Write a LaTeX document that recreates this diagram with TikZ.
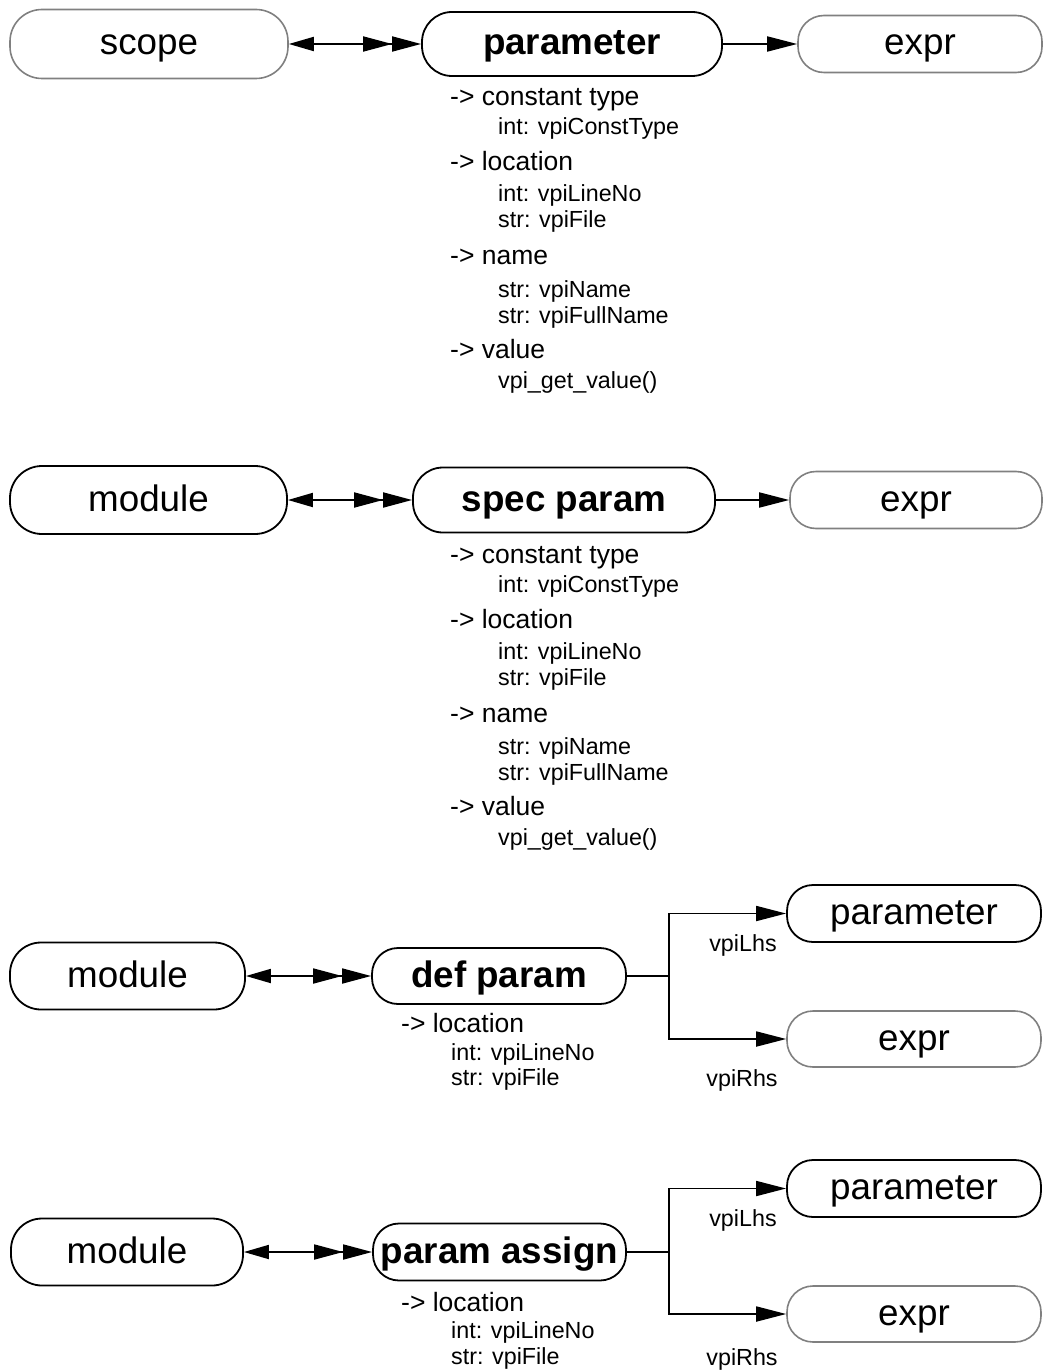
\documentclass[tikz,border=0pt]{standalone}
\usepackage{fontspec}
\setmainfont{Liberation Sans}
\usetikzlibrary{arrows.meta}
\newcommand\fnode{\fontsize{36.8}{40}\selectfont}
\newcommand\fhead{\fontsize{26.5}{30}\selectfont}
\newcommand\fsub{\fontsize{23.3}{27}\selectfont}
\begin{document}
\begin{tikzpicture}[x=1pt,y=-1pt,
  box/.style={rectangle, inner sep=0pt, font=\fnode, line width=1.8pt, text height=22pt, text depth=0pt},
  blk/.style={box, draw=black},
  gry/.style={box, draw=black!50, line width=1.6pt},
  bold/.style={font=\fnode\bfseries},
  sz/.style n args={3}{minimum width=#1pt, minimum height=#2pt, rounded corners=#3pt},
  head/.style={anchor=base west, inner sep=0pt, font=\fhead},
  sub/.style={anchor=base west, inner sep=0pt, font=\fsub},
  elab/.style={anchor=base, inner sep=0pt, font=\fsub},
  conn/.style={line width=1.8pt},
  bi/.style={conn, {Triangle[length=25pt,width=14pt]}-{Triangle[length=29pt,width=15pt]Triangle[length=29pt,width=15pt]}},
  one/.style={conn, -{Triangle[length=30pt,width=15pt]}},
]
\useasboundingbox (0,0) rectangle (1044,1372);

% ---------- Row 1
\node[gry, sz={278}{69}{32}] (scope) at (149,44) {scope};
\node[blk, sz={300}{64}{30}, bold] (param1) at (572,44) {parameter};
\node[gry, sz={244}{57}{26}] (expr1) at (920,44) {expr};
\draw[bi] (scope.east) -- (param1.west);
\draw[one] (param1.east) -- (expr1.west);

\node[head] (a1) at (450,106) {-> constant type};
\node[sub]  (a2) at (498,135) {int: vpiConstType};
\node[head] (a3) at (450,171) {-> location};
\node[sub]  (a4) at (498,202) {int: vpiLineNo};
\node[sub]  (a5) at (498,228) {str: vpiFile};
\node[head] (a6) at (450,265) {-> name};
\node[sub]  (a7) at (498,297) {str: vpiName};
\node[sub]  (a8) at (498,323) {str: vpiFullName};
\node[head] (a9) at (450,358) {-> value};
\node[sub]  (a10) at (498,388) {vpi\_get\_value()};

% ---------- Row 2
\node[blk, sz={277}{68}{32}] (mod2) at (148.5,500) {module};
\node[blk, sz={302}{65}{30}, bold] (spec) at (564,500) {spec param};
\node[gry, sz={252}{57}{26}] (expr2) at (916,500) {expr};
\draw[bi] (mod2.east) -- (spec.west);
\draw[one] (spec.east) -- (expr2.west);

\node[head] (b1) at (450,563) {-> constant type};
\node[sub]  (b2) at (498,592) {int: vpiConstType};
\node[head] (b3) at (450,628) {-> location};
\node[sub]  (b4) at (498,659) {int: vpiLineNo};
\node[sub]  (b5) at (498,685) {str: vpiFile};
\node[head] (b6) at (450,722) {-> name};
\node[sub]  (b7) at (498,754) {str: vpiName};
\node[sub]  (b8) at (498,780) {str: vpiFullName};
\node[head] (b9) at (450,815) {-> value};
\node[sub]  (b10) at (498,845) {vpi\_get\_value()};

% ---------- Row 3
\node[blk, sz={235}{67}{31}] (mod3) at (127.5,976) {module};
\node[blk, sz={254}{56}{26}, bold] (defp) at (499,976) {def param};
\node[blk, sz={254}{57}{26}] (param3) at (914,913.5) {parameter};
\node[gry, sz={254}{56}{26}] (expr3) at (914,1039) {expr};
\coordinate (f3) at (669,976);
\draw[bi] (mod3.east) -- (defp.west);
\draw[conn] (defp.east) -- (f3);
\draw[one] (f3) |- (param3.west);
\draw[one] (f3) |- (expr3.west);
\node[elab] (lhs3) at (743,951) {vpiLhs};
\node[elab] (rhs3) at (742,1086) {vpiRhs};

\node[head] (c1) at (401,1032) {-> location};
\node[sub]  (c2) at (451,1060) {int: vpiLineNo};
\node[sub]  (c3) at (451,1085) {str: vpiFile};

% ---------- Row 4
\node[blk, sz={232}{67}{31}] (mod4) at (127,1252) {module};
\node[blk, sz={253}{57}{26}, bold] (pa) at (499.5,1252) {param assign};
\node[blk, sz={254}{57}{26}] (param4) at (914,1188.5) {parameter};
\node[gry, sz={254}{56}{26}] (expr4) at (914,1314) {expr};
\coordinate (f4) at (669,1252);
\draw[bi] (mod4.east) -- (pa.west);
\draw[conn] (pa.east) -- (f4);
\draw[one] (f4) |- (param4.west);
\draw[one] (f4) |- (expr4.west);
\node[elab] (lhs4) at (743,1226) {vpiLhs};
\node[elab] (rhs4) at (742,1365) {vpiRhs};

\node[head] (d1) at (401,1311) {-> location};
\node[sub]  (d2) at (451,1338) {int: vpiLineNo};
\node[sub]  (d3) at (451,1364) {str: vpiFile};
\end{tikzpicture}
\end{document}
